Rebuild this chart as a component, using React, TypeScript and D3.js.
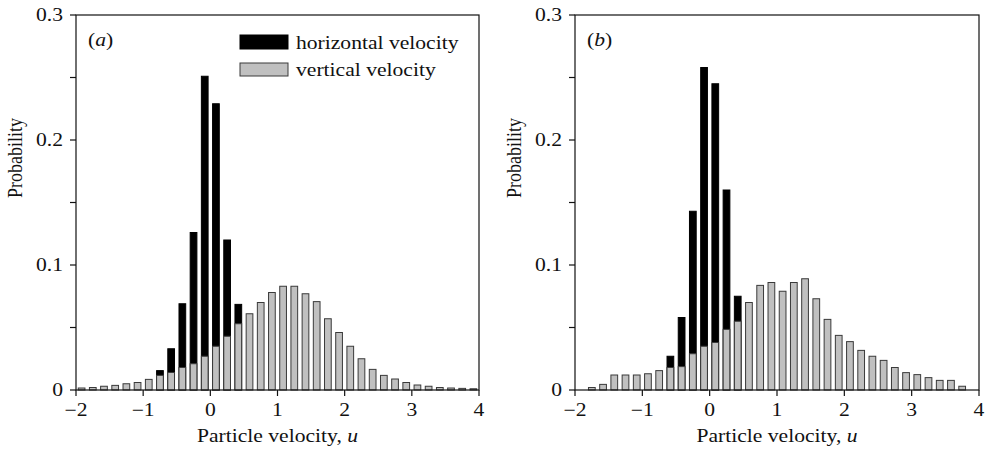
import React from "react";
import * as d3 from "d3";

// Bins of width 1/6 from -2 to 4 (36 bins)
const binStart = -2;
const binWidth = 1 / 6;

const panelAHorizontal = [
  0, 0, 0, 0, 0, 0, 0, 0.0155, 0.033, 0.069, 0.126, 0.251, 0.229, 0.12, 0.0685, 0,
  0, 0, 0, 0, 0, 0, 0, 0, 0, 0, 0, 0, 0, 0, 0, 0, 0, 0, 0, 0,
];
const panelAVertical = [
  0.0016, 0.002, 0.003, 0.0037, 0.005, 0.006, 0.0085, 0.0117, 0.014, 0.018, 0.021, 0.027,
  0.035, 0.043, 0.053, 0.061, 0.07, 0.078, 0.083, 0.083, 0.077, 0.0707, 0.057, 0.046,
  0.035, 0.025, 0.0165, 0.0117, 0.0088, 0.006, 0.004, 0.003, 0.002, 0.0016, 0.0013, 0.001,
];
const panelBHorizontal = [
  0, 0, 0, 0, 0, 0, 0, 0, 0.027, 0.058, 0.143, 0.258, 0.245, 0.16, 0.075, 0,
  0, 0, 0, 0, 0, 0, 0, 0, 0, 0, 0, 0, 0, 0, 0, 0, 0, 0, 0, 0,
];
const panelBVertical = [
  0, 0.002, 0.0045, 0.012, 0.012, 0.012, 0.013, 0.0155, 0.018, 0.0187, 0.029, 0.035,
  0.038, 0.0485, 0.055, 0.07, 0.0837, 0.086, 0.079, 0.086, 0.089, 0.073, 0.0565, 0.0437,
  0.0387, 0.0317, 0.027, 0.0237, 0.018, 0.0139, 0.0123, 0.0099, 0.0077, 0.0077, 0.003, 0,
];

const xTicks = [-2, -1, 0, 1, 2, 3, 4];
const yMajorTicks = [0, 0.1, 0.2, 0.3];
const yMinorTicks = [0.05, 0.15, 0.25];
const yTickLabels = ["0", "0.1", "0.2", "0.3"];
const legendLabels = ["horizontal velocity", "vertical velocity"];
const panelLabels = ["a", "b"];
const xTitle = "Particle velocity, ";
const yTitle = "Probability";

const FONT = "'Liberation Serif', 'Times New Roman', serif";
const FS = 18;
const SX = 1.2;
const GRAY = "#c0c0c0";
const EDGE = "#3a3a3a";

function T({ x, y, anchor = "start", rotate = false, italic = false, children }: any) {
  const tr = rotate
    ? `translate(${x},${y}) scale(${SX},1) rotate(-90)`
    : `translate(${x},${y}) scale(${SX},1)`;
  return (
    <text
      transform={tr}
      textAnchor={anchor}
      fontFamily={FONT}
      fontSize={FS}
      fontStyle={italic ? "italic" : "normal"}
      fill="#111"
    >
      {children}
    </text>
  );
}

function Panel({ left, right, horiz, vert, label, legend }: any) {
  const top = 15;
  const bottom = 390;
  const x = d3.scaleLinear().domain([-2, 4]).range([left, right]);
  const y = d3.scaleLinear().domain([0, 0.3]).range([bottom, top]);
  const bw = (x(binWidth) - x(0)) * 0.6;
  const centers = horiz.map((_: number, i: number) => binStart + (i + 0.5) * binWidth);
  const fmt = (v: number) => yTickLabels[yMajorTicks.indexOf(v)];
  const minus = (v: number) => (v < 0 ? "\u2212" + Math.abs(v) : String(v));

  return (
    <g>
      {/* black (horizontal) bars behind */}
      {horiz.map((v: number, i: number) =>
        v > 0 ? (
          <rect
            key={"h" + i}
            x={x(centers[i]) - bw / 2}
            y={y(v)}
            width={bw}
            height={y(0) - y(v)}
            fill="#000"
            stroke="#000"
            strokeWidth={1}
          />
        ) : null
      )}
      {/* grey (vertical) bars in front */}
      {vert.map((v: number, i: number) =>
        v > 0 ? (
          <rect
            key={"v" + i}
            x={x(centers[i]) - bw / 2}
            y={y(v)}
            width={bw}
            height={y(0) - y(v)}
            fill={GRAY}
            stroke={EDGE}
            strokeWidth={1}
          />
        ) : null
      )}
      {/* frame */}
      <rect x={left} y={top} width={right - left} height={bottom - top} fill="none" stroke="#111" strokeWidth={1.2} />
      {/* x ticks */}
      {xTicks.map((t) => (
        <g key={"xt" + t}>
          <line x1={x(t)} x2={x(t)} y1={bottom} y2={bottom + 6} stroke="#111" strokeWidth={1.2} />
          <T x={x(t)} y={bottom + 26} anchor="middle">{minus(t)}</T>
        </g>
      ))}
      {/* y ticks */}
      {yMajorTicks.map((t) => (
        <g key={"ym" + t}>
          <line x1={left - 6} x2={left} y1={y(t)} y2={y(t)} stroke="#111" strokeWidth={1.2} />
          <T x={left - 13} y={y(t) + 6} anchor="end">{fmt(t)}</T>
        </g>
      ))}
      {yMinorTicks.map((t) => (
        <line key={"yn" + t} x1={left - 6} x2={left} y1={y(t)} y2={y(t)} stroke="#111" strokeWidth={1.2} />
      ))}
      {/* axis titles */}
      <text
        transform={`translate(${(left + right) / 2},${bottom + 52}) scale(${SX},1)`}
        textAnchor="middle"
        fontFamily={FONT}
        fontSize={FS}
        fill="#111"
      >
        {xTitle}
        <tspan fontStyle="italic">u</tspan>
      </text>
      <T x={left - 54} y={198} rotate>{yTitle}</T>
      {/* panel label */}
      <text
        transform={`translate(${left + 12},${top + 31}) scale(${SX},1)`}
        fontFamily={FONT}
        fontSize={FS}
        fill="#111"
      >
        (<tspan fontStyle="italic">{label}</tspan>)
      </text>
      {legend ? (
        <g>
          <rect x={240} y={35} width={48} height={14} fill="#000" stroke="#000" />
          <T x={296} y={49}>{legendLabels[0]}</T>
          <rect x={240} y={63} width={48} height={13} fill={GRAY} stroke={EDGE} />
          <T x={296} y={76}>{legendLabels[1]}</T>
        </g>
      ) : null}
    </g>
  );
}

export default function App() {
  return (
    <svg
      width={985}
      height={449}
      style={{ position: "absolute", left: 0, top: 0, background: "#fff" }}
    >
      <rect x={0} y={0} width={985} height={449} fill="#fff" />
      <Panel left={76} right={479} horiz={panelAHorizontal} vert={panelAVertical} label={panelLabels[0]} legend />
      <Panel left={575} right={979} horiz={panelBHorizontal} vert={panelBVertical} label={panelLabels[1]} legend={false} />
    </svg>
  );
}
